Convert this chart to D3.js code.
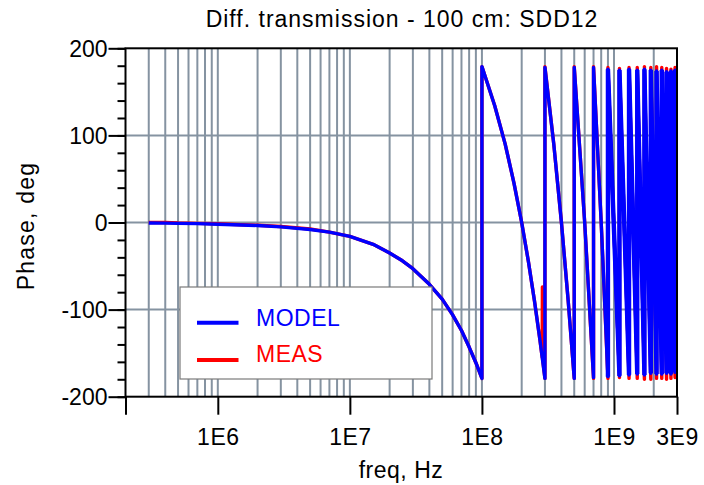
<!DOCTYPE html>
<html>
<head>
<meta charset="utf-8">
<script src="https://cdn.jsdelivr.net/npm/d3@7"></script>
<style>
  body { margin: 0; background: #fff; }
  text { font-family: Arial, "Liberation Sans", sans-serif; }
</style>
</head>
<body>
<svg id="chart" width="704" height="485"></svg>
<script>
// Differential transmission phase (SDD12) of a 100 cm line, model vs. measurement
const freqModel = [
  3e5, 4e5, 5e5, 7e5, 1e6, 1.5e6, 2e6, 3e6, 5e6, 7e6, 1e7, 1.5e7, 2e7, 2.5e7, 3e7, 4e7, 5e7, 6e7, 7e7, 8e7, 9e7, 1e8,
  1e8, 1.25e8, 1.5e8, 1.75e8, 2e8, 2.25e8, 2.5e8, 2.75e8, 3e8,
  3e8, 3.5e8, 4e8, 4.5e8, 5e8,
  5e8, 6e8, 7e8,
  7e8, 8e8, 9e8,
  9e8, 1.1e9, 1.1e9, 1.3e9, 1.3e9, 1.5e9, 1.5e9, 1.7e9, 1.7e9, 1.9e9, 1.9e9, 2.1e9,
  2.1e9, 2.3e9, 2.3e9, 2.5e9, 2.5e9, 2.7e9, 2.7e9, 2.9e9, 2.9e9, 3e9
];
const phaseModel = [
  -0.5, -0.7, -1, -1.3, -2, -2.8, -3.5, -5, -8, -11, -16, -25, -35, -44, -53, -71, -88, -106, -124, -143, -161, -179,
  179, 134, 90, 45, 0, -45, -90, -135, -179,
  178, 90, 0, -90, -179,
  178, 0, -178,
  178, 0, -177,
  176, -176, 175, -175, 176, -174, 175, -175, 176, -173, 175, -174,
  174, -174, 175, -173, 173, -174, 174, -172, 175, 2
];

const freqMeas = [
  3e5, 4e5, 5e5, 7e5, 1e6, 1.5e6, 2e6, 3e6, 5e6, 7e6, 1e7, 1.5e7, 2e7, 2.5e7, 3e7, 4e7, 5e7, 6e7, 7e7, 8e7, 9e7, 1e8,
  1e8, 1.25e8, 1.5e8, 1.75e8, 2e8, 2.25e8, 2.5e8, 2.75e8, 2.86e8, 2.87e8, 2.88e8, 3e8,
  3e8, 3.5e8, 4e8, 4.5e8, 5e8,
  5e8, 6e8, 7e8,
  7e8, 8e8, 9e8,
  9e8, 1.1e9, 1.1e9, 1.3e9, 1.3e9, 1.5e9, 1.5e9, 1.7e9, 1.7e9, 1.9e9, 1.9e9, 2.1e9,
  2.1e9, 2.3e9, 2.3e9, 2.5e9, 2.5e9, 2.7e9, 2.7e9, 2.9e9, 2.9e9, 3e9
];
const phaseMeas = [
  0, 0.2, -0.6, -1, -1.5, -2.5, -3.2, -4.6, -7.5, -11, -16, -25, -35, -44, -53, -71, -88, -106, -124, -143, -161, -179,
  179, 134, 90, 45, 0, -45, -90, -135, -155, -74, -157, -179,
  179, 90, 0, -90, -179,
  179, 0, -179,
  179, 0, -179,
  178, -178, 177, -179, 178, -179, 178, -180, 179, -180, 178, -179,
  179, -179, 178, -180, 177, -179, 176, -178, 178, -12
];

const xTickValues = [2e5, 1e6, 1e7, 1e8, 1e9, 3e9];
const xTickLabels = ["", "1E6", "1E7", "1E8", "1E9", "3E9"];
const yMajorTicks = [-200, -100, 0, 100, 200];
const yMinorTicks = d3.range(-200, 201, 20);
const yGridValues = [-100, 0, 100];
const legendNames = ["MODEL", "MEAS"];
const seriesColors = ["#0000ff", "#ff0000"];

const W = 704, H = 485;
const plot = { left: 125.5, right: 677, top: 48.3, bottom: 396.7 };
const gridColor = "#8593a1";
const fontSize = 23;
const denseFrom = 9e8; // above this the wrapped sweeps crowd together

const svg = d3.select("#chart");
svg.append("rect").attr("width", W).attr("height", H).attr("fill", "#fff");

const x = d3.scaleLog().domain([2e5, 3e9]).range([plot.left, plot.right]);
const y = d3.scaleLinear().domain([-200, 200]).range([plot.bottom, plot.top]);

// vertical grid at every 1..9 x 10^n inside the frequency range
const gridFreqs = [];
for (let d = 1e5; d <= 1e9; d *= 10) {
  for (let k = 1; k <= 9; k++) {
    const f = k * d;
    if (f > 2.01e5 && f < 2.99e9) gridFreqs.push(f);
  }
}
const grid = svg.append("g");
grid.selectAll("line.v").data(gridFreqs).join("line")
  .attr("x1", d => x(d)).attr("x2", d => x(d))
  .attr("y1", plot.top).attr("y2", plot.bottom)
  .attr("stroke", gridColor).attr("stroke-width", 2);
grid.selectAll("line.h").data(yGridValues).join("line")
  .attr("x1", plot.left).attr("x2", plot.right)
  .attr("y1", d => y(d)).attr("y2", d => y(d))
  .attr("stroke", gridColor).attr("stroke-width", 2);

// data traces, clipped to the plot frame
svg.append("clipPath").attr("id", "plotClip").append("rect")
  .attr("x", plot.left).attr("y", plot.top - 3)
  .attr("width", plot.right - plot.left).attr("height", plot.bottom - plot.top + 6);

const line = d3.line().x(d => x(d[0])).y(d => y(d[1]));
const measData = freqMeas.map((f, i) => [f, phaseMeas[i]]);
const modelData = freqModel.map((f, i) => [f, phaseModel[i]]);
const traces = svg.append("g").attr("clip-path", "url(#plotClip)");
traces.append("path").datum(measData).attr("d", line)
  .attr("fill", "none").attr("stroke", seriesColors[1]).attr("stroke-width", 3.4)
  .attr("stroke-linejoin", "round");
traces.append("path").datum(modelData).attr("d", line)
  .attr("fill", "none").attr("stroke", seriesColors[0]).attr("stroke-width", 3.4)
  .attr("stroke-linejoin", "round");
// the crowded high-frequency sweeps render heavier
traces.append("path").datum(modelData.filter(d => d[0] >= denseFrom))
  .attr("d", line)
  .attr("fill", "none").attr("stroke", seriesColors[0]).attr("stroke-width", 4.4)
  .attr("stroke-linejoin", "miter").attr("stroke-miterlimit", 1);

// frame
svg.append("rect")
  .attr("x", plot.left).attr("y", plot.top)
  .attr("width", plot.right - plot.left).attr("height", plot.bottom - plot.top)
  .attr("fill", "none").attr("stroke", "#000").attr("stroke-width", 2);

// y axis: minor and major ticks
const yMinor = svg.append("g").attr("transform", `translate(${plot.left},0)`)
  .call(d3.axisLeft(y).tickValues(yMinorTicks).tickSize(8).tickSizeOuter(0).tickFormat(""));
const yMajor = svg.append("g").attr("transform", `translate(${plot.left},0)`)
  .call(d3.axisLeft(y).tickValues(yMajorTicks).tickSize(17).tickSizeOuter(0).tickPadding(1)
    .tickFormat(d => String(d)));
[yMinor, yMajor].forEach(g => {
  g.select(".domain").remove();
  g.selectAll("line").attr("stroke", "#000").attr("stroke-width", 2);
});
yMajor.selectAll("text").attr("font-size", fontSize).attr("fill", "#000")
  .attr("font-family", "Arial, 'Liberation Sans', sans-serif").attr("dy", "0.36em");

// x axis
const xAxis = svg.append("g").attr("transform", `translate(0,${plot.bottom})`)
  .call(d3.axisBottom(x).tickValues(xTickValues).tickSize(18).tickSizeOuter(0).tickPadding(14)
    .tickFormat((d, i) => xTickLabels[i]));
xAxis.select(".domain").remove();
xAxis.selectAll("line").attr("stroke", "#000").attr("stroke-width", 2);
xAxis.selectAll("text").attr("font-size", fontSize).attr("fill", "#000")
  .attr("font-family", "Arial, 'Liberation Sans', sans-serif").attr("letter-spacing", "0.5px");

// titles
svg.append("text").attr("x", 402).attr("y", 26.5).attr("text-anchor", "middle")
  .attr("font-size", fontSize).attr("letter-spacing", "1px").attr("fill", "#000")
  .text("Diff. transmission - 100 cm: SDD12");
svg.append("text").attr("x", 401).attr("y", 478).attr("text-anchor", "middle")
  .attr("font-size", fontSize).attr("letter-spacing", "0.5px").attr("fill", "#000")
  .text("freq, Hz");
svg.append("text").attr("transform", "translate(33.5,226) rotate(-90)").attr("text-anchor", "middle")
  .attr("font-size", fontSize).attr("letter-spacing", "1.2px").attr("fill", "#000")
  .text("Phase, deg");

// legend
const legend = svg.append("g");
legend.append("rect").attr("x", 180).attr("y", 287).attr("width", 252).attr("height", 92)
  .attr("fill", "#fff").attr("stroke", "#7a7a7a").attr("stroke-width", 1.2);
const legendRows = [322.7, 360];
legendNames.forEach((name, i) => {
  legend.append("line").attr("x1", 197).attr("x2", 238.5)
    .attr("y1", legendRows[i]).attr("y2", legendRows[i])
    .attr("stroke", seriesColors[i]).attr("stroke-width", 4);
  legend.append("text").attr("x", 256).attr("y", legendRows[i] + 3 - (i === 0 ? 0 : 1))
    .attr("font-size", fontSize).attr("letter-spacing", "0.5px").attr("fill", seriesColors[i])
    .text(name);
});
</script>
</body>
</html>
